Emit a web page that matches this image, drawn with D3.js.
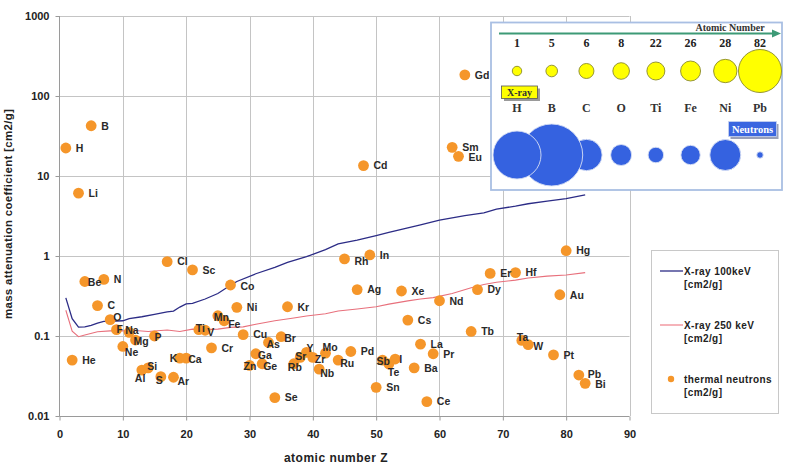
<!DOCTYPE html>
<meta charset="utf-8">
<style>
body { margin: 0; background: #fff; }
svg { display: block; font-family: "Liberation Sans", Arial, sans-serif; }
.grid line { stroke: #c4c4c4; stroke-width: 1; }
.axis path, .axis line { stroke: #9a9a9a; }
.axis text { font-size: 11px; font-weight: bold; fill: #222; }
.lbl { font-size: 10.5px; font-weight: bold; fill: #2a2a2a; }
.ins { font-family: "Liberation Serif", "Times New Roman", serif; font-weight: bold; }
</style>
<body>
<script src="https://cdn.jsdelivr.net/npm/d3@7"></script>
<script>

var width = 786, height = 474;

// thermal neutron attenuation
var elemZ = [1,2,3,4,5,6,7,8,9,10,11,12,13,14,15,16,17,18,19,20,21,22,23,24,25,26,27,28,29,30,
  31,32,33,34,35,36,37,38,39,40,41,42,44,45,46,47,48,49,50,51,52,53,54,55,56,57,58,59,60,
  62,63,64,65,66,68,72,73,74,78,79,80,82,83];
var elemSym = ["H","He","Li","Be","B","C","N","O","F","Ne","Na","Mg","Al","Si","P","S","Cl","Ar","K","Ca","Sc","Ti","V","Cr","Mn","Fe","Co","Ni","Cu","Zn",
  "Ga","Ge","As","Se","Br","Kr","Rb","Sr","Y","Zr","Nb","Mo","Ru","Rh","Pd","Ag","Cd","In","Sn","Sb","Te","I","Xe","Cs","Ba","La","Ce","Pr","Nd",
  "Sm","Eu","Gd","Tb","Dy","Er","Hf","Ta","W","Pt","Au","Hg","Pb","Bi"];
var neutronMu = [22.4,0.050,6.1,0.48,42.5,0.24,0.51,0.16,0.12,0.074,0.111,0.089,0.0375,0.040,0.10,0.031,0.85,0.0305,0.053,0.053,0.67,0.12,0.118,0.071,0.179,0.155,0.434,0.228,0.104,0.043,
  0.060,0.045,0.083,0.017,0.098,0.232,0.045,0.054,0.0625,0.054,0.0385,0.061,0.050,0.92,0.064,0.38,13.5,1.03,0.0228,0.050,0.0447,0.0515,0.365,0.158,0.040,0.079,0.0151,0.060,0.276,
  22.8,17.6,184,0.114,0.38,0.606,0.62,0.088,0.078,0.058,0.328,1.165,0.0325,0.0256];

// X-ray 100 keV
var z100 = [1,2,3,4,5,6,7,8,10,11,13,15,17,18,19,20,21,23,25,27,28,31,34,36,39,42,44,47,50,52,55,57,60,64,67,69,72,74,77,80,83];
var mu100 = [0.30,0.165,0.129,0.13,0.136,0.145,0.152,0.152,0.155,0.165,0.174,0.186,0.200,0.205,0.23,0.252,0.256,0.29,0.34,0.43,0.48,0.60,0.72,0.83,0.98,1.2,1.42,1.58,1.8,1.97,2.24,2.45,2.8,3.2,3.45,3.85,4.2,4.5,4.85,5.2,5.8];
// X-ray 250 keV
var z250 = [1,2,3,4,6,8,10,12,14,17,19,21,23,25,27,29,31,34,37,39,42,44,47,50,52,55,57,59,62,65,67,69,72,74,77,80,83];
var mu250 = [0.21,0.115,0.098,0.103,0.113,0.116,0.116,0.117,0.114,0.119,0.114,0.122,0.12,0.122,0.128,0.13,0.14,0.155,0.168,0.178,0.19,0.205,0.218,0.232,0.25,0.275,0.29,0.302,0.34,0.40,0.44,0.47,0.50,0.53,0.56,0.58,0.62];

// inset
var insetZ = [1,5,6,8,22,26,28,82];
var insetSym = ["H","B","C","O","Ti","Fe","Ni","Pb"];
var xrayRel = [4.8,7.3,12.2,14.9,17.5,21.6,29.6,100];
var neutronRel = [60,100,25.6,11.5,6.3,9.8,25,1.1];

var yTicks = [0.01,0.1,1,10,100,1000];
var xTicks = [0,10,20,30,40,50,60,70,80,90];

// label nudges [dx, dy] (default label sits 10px right of the dot)
var nudge = {Be:[3,1],O:[3,-2],F:[0,0],Na:[-4,-2],Mg:[-2,1.5],P:[0,1.4],Ne:[2,6],Mn:[-4,1],Fe:[4,3],
  Ti:[-3,-1],V:[2,1.5],K:[-10,0],Ca:[2,1],Si:[-1,-2],Al:[-7,8],S:[-5,4],Ar:[4,4],Zn:[-6,1],Br:[3,1],
  As:[-2,2],Y:[0,-4],Mo:[-3,-6],Sr:[-5,-1],Zr:[2,2],Ga:[2,1],Ru:[2,3],Sb:[-6,1],I:[4,0],Te:[-1,8],
  Ge:[1,2],Rb:[-6,3],Nb:[1,4],Ta:[-5,-3],W:[5,2],Pb:[9,-1],Bi:[10,1],Rh:[10,2],Co:[10,1],Eu:[10,1]};

var svg = d3.select("body").append("svg")
    .attr("width", width)
    .attr("height", height);

var x = d3.scaleLinear().domain([0, 90]).range([59.5, 629.5]);
var y = d3.scaleLog().domain([0.01, 1000]).range([416, 16]);

// grid
var grid = svg.append("g").attr("class", "grid");
grid.selectAll(".gx").data(xTicks.slice(1)).enter().append("line")
    .attr("x1", d => Math.round(x(d)) + 0.5).attr("x2", d => Math.round(x(d)) + 0.5)
    .attr("y1", y(1000)).attr("y2", y(0.01));
grid.selectAll(".gy").data(yTicks.slice(1)).enter().append("line")
    .attr("x1", x(0)).attr("x2", x(90))
    .attr("y1", d => Math.round(y(d)) + 0.5).attr("y2", d => Math.round(y(d)) + 0.5);

// axes
svg.append("g").attr("class", "axis")
    .attr("transform", "translate(" + x(0) + ",0)")
    .call(d3.axisLeft(y).tickValues(yTicks).tickFormat(d3.format("~g")).tickSize(4).tickPadding(6))
    .call(g => g.select(".domain").attr("d", "M0," + y(1000) + "V" + (y(0.01) + 0.5)));
svg.append("g").attr("class", "axis")
    .attr("transform", "translate(0," + (Math.round(y(0.01)) + 0.5) + ")")
    .call(d3.axisBottom(x).tickValues(xTicks).tickSize(4).tickPadding(10))
    .call(g => g.select(".domain").attr("d", "M" + x(0) + ",0H" + x(90)));

svg.append("text")
    .attr("x", 336).attr("y", 462)
    .attr("text-anchor", "middle")
    .style("font-size", "12px").style("font-weight", "bold").style("letter-spacing", "0.5px")
    .attr("fill", "#222")
    .text("atomic number Z");
svg.append("text")
    .attr("transform", "translate(12,214) rotate(-90)")
    .attr("text-anchor", "middle")
    .style("font-size", "11.5px").style("font-weight", "bold").style("letter-spacing", "0.3px")
    .attr("fill", "#222")
    .text("mass attenuation coefficient [cm2/g]");

// x-ray lines
var line = d3.line().x(d => x(d[0])).y(d => y(d[1]));
svg.append("path")
    .attr("d", line(d3.zip(z250, mu250)))
    .attr("fill", "none").attr("stroke", "#e8707c").attr("stroke-width", 1.1);
svg.append("path")
    .attr("d", line(d3.zip(z100, mu100)))
    .attr("fill", "none").attr("stroke", "#2c2c86").attr("stroke-width", 1.3);

// neutrons
var pts = elemZ.map((z, i) => ({z: z, sym: elemSym[i], v: neutronMu[i]}));
svg.append("g").selectAll("circle")
    .data(pts).enter().append("circle")
    .attr("cx", d => x(d.z)).attr("cy", d => y(d.v))
    .attr("r", 5.4)
    .attr("fill", "#f5962a");
svg.append("g").selectAll("text")
    .data(pts).enter().append("text")
    .attr("class", "lbl")
    .attr("x", d => x(d.z) + (nudge[d.sym] ? nudge[d.sym][0] : 10))
    .attr("y", d => y(d.v) + (nudge[d.sym] ? nudge[d.sym][1] : 0) + 3.8)
    .text(d => d.sym);

// legend
var leg = svg.append("g");
leg.append("rect").attr("x", 651.5).attr("y", 250.5).attr("width", 127).attr("height", 163)
    .attr("fill", "#fff").attr("stroke", "#c8c8c8");
var legItems = [
  {t: "X-ray 100keV", c: "#2c2c86", y: 271, kind: "line"},
  {t: "X-ray 250 keV", c: "#f08a94", y: 325, kind: "line"},
  {t: "thermal neutrons", c: "#f5962a", y: 379, kind: "dot"}
];
legItems.forEach(function(it) {
  if (it.kind == "line") {
    leg.append("line").attr("x1", 660).attr("x2", 683).attr("y1", it.y).attr("y2", it.y)
        .attr("stroke", it.c).attr("stroke-width", 1.3);
  } else {
    leg.append("circle").attr("cx", 671).attr("cy", it.y).attr("r", 3.2).attr("fill", it.c);
  }
  var t = leg.append("text").attr("x", 684).attr("y", it.y + 3.5)
      .style("font-size", "10px").style("font-weight", "bold").style("letter-spacing", "0.4px")
      .attr("fill", "#222");
  t.append("tspan").text(it.t);
  t.append("tspan").attr("x", 684).attr("dy", 13.5).text("[cm2/g]");
});

// inset panel
var ins = svg.append("g");
ins.append("rect").attr("x", 491).attr("y", 22.5).attr("width", 291).attr("height", 167.5)
    .attr("fill", "#fff").attr("stroke", "#a9bfe3").attr("stroke-width", 1.8);

var ix = d3.scalePoint().domain(insetSym).range([517, 760]);
var rX = d3.scaleSqrt().domain([0, 100]).range([0, 21.5]);
var rN = d3.scaleSqrt().domain([0, 100]).range([0, 31]);

ins.append("line").attr("x1", 499).attr("x2", 774).attr("y1", 33.5).attr("y2", 33.5)
    .attr("stroke", "#3d9a76").attr("stroke-width", 1.8);
ins.append("path").attr("d", "M772,29.5L781,33.5L772,37.5Z").attr("fill", "#3d9a76");
ins.append("text").attr("class", "ins").attr("x", 730).attr("y", 31).attr("text-anchor", "middle")
    .style("font-size", "10px").attr("fill", "#333").text("Atomic Number");

ins.selectAll(".num").data(insetZ).enter().append("text")
    .attr("class", "ins").attr("text-anchor", "middle")
    .attr("x", (d, i) => ix(insetSym[i])).attr("y", 47)
    .style("font-size", "12px").attr("fill", "#222")
    .text(d => d);

ins.selectAll(".xr").data(xrayRel).enter().append("circle")
    .attr("cx", (d, i) => ix(insetSym[i])).attr("cy", 71)
    .attr("r", d => rX(d))
    .attr("fill", "#ffff00").attr("stroke", "#8a8a2a").attr("stroke-width", 0.9);

ins.append("rect").attr("x", 504).attr("y", 88.5).attr("width", 36).attr("height", 12.5).attr("fill", "#9a9a9a");
ins.append("rect").attr("x", 501.5).attr("y", 86).attr("width", 36).attr("height", 12.5)
    .attr("fill", "#ffff00").attr("stroke", "#555").attr("stroke-width", 0.8);
ins.append("text").attr("class", "ins").attr("x", 519.5).attr("y", 96).attr("text-anchor", "middle")
    .style("font-size", "10px").attr("fill", "#333").text("X-ray");

ins.selectAll(".sym").data(insetSym).enter().append("text")
    .attr("class", "ins").attr("text-anchor", "middle")
    .attr("x", d => ix(d)).attr("y", 112)
    .style("font-size", "12px").attr("fill", "#333")
    .text(d => d);

ins.append("rect").attr("x", 730.5).attr("y", 124).attr("width", 48).attr("height", 15).attr("fill", "#9aa0b8");
ins.append("rect").attr("x", 728.5).attr("y", 121.5).attr("width", 48).attr("height", 15)
    .attr("fill", "#3a66e0").attr("stroke", "#c9d4f0").attr("stroke-width", 0.8);
ins.append("text").attr("class", "ins").attr("x", 752.5).attr("y", 132.5).attr("text-anchor", "middle")
    .style("font-size", "10.5px").attr("fill", "#fff").text("Neutrons");

// draw from right to left so H sits on top of B, B on top of C
var nIdx = d3.range(insetSym.length).reverse();
ins.selectAll(".nr").data(nIdx).enter().append("circle")
    .attr("cx", i => ix(insetSym[i])).attr("cy", 155)
    .attr("r", i => rN(neutronRel[i]))
    .attr("fill", "#3562e0").attr("stroke", "#d8e0f4").attr("stroke-width", 0.9);

</script>
</body>
</html>
